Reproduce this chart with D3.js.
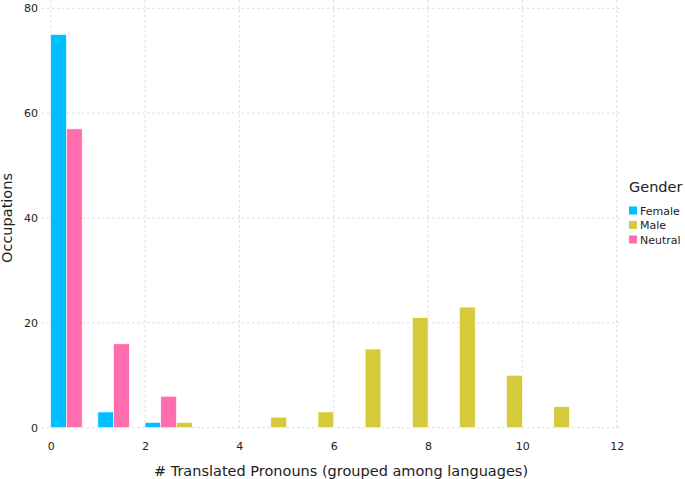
<!DOCTYPE html>
<html><head><meta charset="utf-8">
<script src="https://cdn.jsdelivr.net/npm/d3@7"></script>
<style>body{margin:0;background:#fff}svg{display:block;font-family:"DejaVu Sans",sans-serif}</style>
</head><body><svg id="c" width="685" height="479"></svg>
<script>
const genders = ["Female", "Male", "Neutral"];
const colors = ["#00BFFF", "#D4CA3A", "#FF6DAE"];
const femaleX = [0, 1, 2];
const femaleY = [75, 3, 1];
const maleX = [3, 5, 6, 7, 8, 9, 10, 11];
const maleY = [1, 2, 3, 15, 21, 23, 10, 4];
const neutralX = [0, 1, 2];
const neutralY = [57, 16, 6];
const xTicks = [0, 2, 4, 6, 8, 10, 12];
const yTicks = [0, 20, 40, 60, 80];
// slot offset within each group (in x units of 1/3)
const slotOffset = {Male: -1, Female: 0, Neutral: 1};

const data = [];
femaleX.forEach((x,i)=>data.push({g:"Female",x,y:femaleY[i]}));
maleX.forEach((x,i)=>data.push({g:"Male",x,y:maleY[i]}));
neutralX.forEach((x,i)=>data.push({g:"Neutral",x,y:neutralY[i]}));

const svg = d3.select("#c");
const x = d3.scaleLinear().domain([0,12]).range([50.7,616.7]);
const y = d3.scaleLinear().domain([0,80]).range([427.7,8.3]);
const color = d3.scaleOrdinal().domain(genders).range(colors);
const gridColor = "#d0d0e0";

// grid
svg.append("g").selectAll("line").data(xTicks).join("line")
  .attr("x1",d=>x(d)).attr("x2",d=>x(d)).attr("y1",0).attr("y2",430)
  .attr("stroke",gridColor).attr("stroke-width",0.8).attr("stroke-dasharray","2.5,2.5");
svg.append("g").selectAll("line").data(yTicks).join("line")
  .attr("x1",42).attr("x2",622).attr("y1",d=>y(d)).attr("y2",d=>y(d))
  .attr("stroke",gridColor).attr("stroke-width",0.8).attr("stroke-dasharray","2.5,2.5");

// bars
const w = 1/3;
svg.append("g").selectAll("rect").data(data).join("rect")
  .attr("x",d=>x(d.x + slotOffset[d.g]*w))
  .attr("width",d=>x(d.x + (slotOffset[d.g]+1)*w) - x(d.x + slotOffset[d.g]*w))
  .attr("y",d=>y(d.y)).attr("height",d=>y(0)-y(d.y))
  .attr("fill",d=>color(d.g)).attr("stroke","#fff").attr("stroke-width",0.6);

// axes (tick labels only)
const xAxis = d3.axisBottom(x).tickValues(xTicks).tickSize(0).tickPadding(0);
const gx = svg.append("g").attr("transform","translate(0,442)").call(xAxis);
gx.select(".domain").remove();
gx.selectAll("text").attr("font-size",11).attr("fill","#222").attr("font-family","DejaVu Sans").attr("dy","0.71em");

const yAxis = d3.axisLeft(y).tickValues(yTicks).tickSize(0).tickPadding(0);
const gy = svg.append("g").attr("transform","translate(38,0)").call(yAxis);
gy.select(".domain").remove();
gy.selectAll("text").attr("font-size",11).attr("fill","#222").attr("font-family","DejaVu Sans");

// axis titles
svg.append("text").attr("x",341).attr("y",476).attr("text-anchor","middle")
  .attr("font-size",14.5).attr("fill","#222").text("# Translated Pronouns (grouped among languages)");
svg.append("text").attr("transform","translate(12,218) rotate(-90)").attr("text-anchor","middle")
  .attr("font-size",14.5).attr("fill","#222").text("Occupations");

// legend
const lg = svg.append("g").attr("transform","translate(629,0)");
lg.append("text").attr("x",0).attr("y",192).attr("font-size",14.5).attr("fill","#222").text("Gender");
const items = lg.selectAll("g.it").data(genders).join("g").attr("class","it")
  .attr("transform",(d,i)=>`translate(0,${210.5+i*14.5})`);
items.append("rect").attr("x",0).attr("y",-4).attr("width",8).attr("height",8).attr("fill",d=>color(d));
items.append("text").attr("x",11).attr("y",4).attr("font-size",11).attr("fill","#222").text(d=>d);
</script></body></html>
